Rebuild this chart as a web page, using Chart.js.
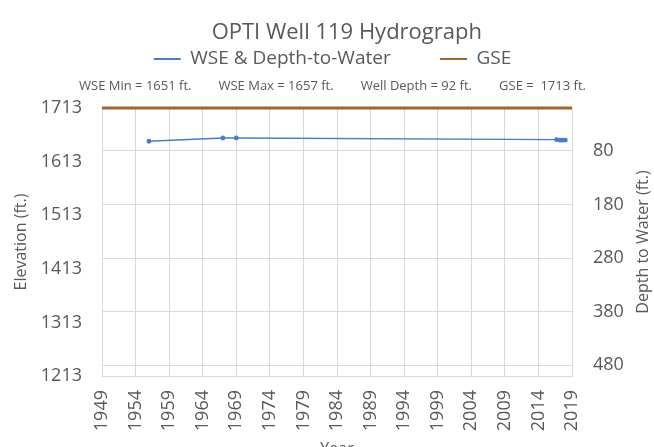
<!DOCTYPE html>
<html>
<head>
<meta charset="utf-8">
<script src="https://cdn.jsdelivr.net/npm/chart.js@4/dist/chart.umd.min.js"></script>
<style>
  html, body { margin: 0; padding: 0; background: #ffffff; }
  #wrap { width: 654px; height: 447px; }
</style>
</head>
<body>
<div id="wrap"><canvas id="hydro" width="654" height="447"></canvas></div>
<script>
// values
const wseYears = [1956, 1967, 1969, 2016.7, 2017.2, 2017.6, 2018];
const wseElev = [1651, 1657, 1657, 1654, 1653, 1653, 1653];
const gseYears = [1949, 2019];
const gseElev = [1713, 1713];
const elevTicks = [1213, 1313, 1413, 1513, 1613, 1713];
const depthTicks = [80, 180, 280, 380, 480];
const yearTicks = [1949, 1954, 1959, 1964, 1969, 1974, 1979, 1984, 1989, 1994, 1999, 2004, 2009, 2014, 2019];
const seriesNames = ["WSE & Depth-to-Water", "GSE"];
const statsLine = "WSE Min = 1651 ft.        WSE Max = 1657 ft.        Well Depth = 92 ft.        GSE =  1713 ft.";
const rightTitle = "Depth to Water (ft.)";

const textColor = "#595959";
const gridColor = "#d9d9d9";
const wseColor = "#4a7cc9";
const gseColor = "#a0672f";
const tickFont = { family: "Open Sans", size: 18 };
const axisTitleFont = { family: "Open Sans", size: 16 };

// Chart.js turns a right-hand axis title the other way, so draw it bottom-to-top here
const rightTitlePlugin = {
    id: "rightTitle",
    afterDraw(chart) {
        const c = chart.ctx;
        const area = chart.chartArea;
        c.save();
        c.translate(chart.width - 11, (area.top + area.bottom) / 2);
        c.rotate(-Math.PI / 2);
        c.fillStyle = textColor;
        c.font = "16px 'Open Sans'";
        c.textAlign = "center";
        c.textBaseline = "middle";
        c.fillText(rightTitle, 0, 0);
        c.restore();
    }
};

const ctx = document.getElementById("hydro").getContext("2d");
new Chart(ctx, {
    type: "line",
    data: {
        datasets: [
            {
                label: seriesNames[0],
                data: wseYears.map((x, i) => ({ x: x, y: wseElev[i] })),
                borderColor: wseColor,
                backgroundColor: wseColor,
                borderWidth: 1.3,
                pointRadius: 1.8,
                pointHoverRadius: 1.8,
                yAxisID: "y",
                tension: 0
            },
            {
                label: seriesNames[1],
                data: gseYears.map((x, i) => ({ x: x, y: gseElev[i] })),
                borderColor: gseColor,
                backgroundColor: gseColor,
                borderWidth: 3,
                pointRadius: 0,
                yAxisID: "y",
                clip: 6
            }
        ]
    },
    options: {
        responsive: false,
        animation: false,
        layout: { padding: { top: 20, left: 12, right: 1, bottom: 0 } },
        plugins: {
            title: {
                display: true,
                text: "     OPTI Well 119 Hydrograph",
                color: textColor,
                font: { family: "Open Sans", size: 22, weight: "normal" },
                padding: { top: 0, bottom: 3 }
            },
            legend: {
                display: true,
                labels: {
                    color: textColor,
                    font: { family: "Open Sans", size: 19 },
                    boxWidth: 27,
                    boxHeight: 2,
                    padding: 0,
                    generateLabels: chart => chart.data.datasets.map((ds, i) => ({
                        text: i === 0 ? ds.label + "          " : ds.label,
                        fillStyle: ds.borderColor,
                        strokeStyle: ds.borderColor,
                        lineWidth: 0,
                        fontColor: textColor,
                        datasetIndex: i
                    }))
                }
            },
            subtitle: {
                display: true,
                text: statsLine,
                color: textColor,
                weight: 500,
                font: { family: "Open Sans", size: 13 },
                padding: { top: 0, bottom: 14 }
            },
            tooltip: { enabled: false }
        },
        scales: {
            x: {
                type: "linear",
                min: 1949,
                max: 2019,
                afterBuildTicks: axis => { axis.ticks = yearTicks.map(v => ({ value: v })); },
                afterFit: axis => { axis.height = 71; },
                ticks: {
                    color: textColor,
                    font: tickFont,
                    maxRotation: 90,
                    minRotation: 90,
                    padding: 14,
                    autoSkip: false,
                    callback: v => String(v)
                },
                grid: { color: gridColor, drawTicks: false },
                border: { color: gridColor },
                title: {
                    display: true,
                    text: "Year",
                    color: textColor,
                    font: axisTitleFont,
                    padding: { top: 0, bottom: -12 }
                }
            },
            y: {
                position: "left",
                min: 1213,
                max: 1713,
                afterBuildTicks: axis => { axis.ticks = elevTicks.map(v => ({ value: v })); },
                afterFit: axis => { axis.width = 90; },
                ticks: {
                    color: textColor,
                    font: tickFont,
                    padding: 20,
                    callback: v => String(v)
                },
                grid: { display: false, drawTicks: false },
                border: { display: false },
                title: {
                    display: true,
                    text: "Elevation (ft.)",
                    color: textColor,
                    font: axisTitleFont,
                    padding: { top: 0, bottom: 0 }
                }
            },
            y2: {
                position: "right",
                reverse: true,
                min: 0,
                max: 500,
                afterBuildTicks: axis => { axis.ticks = depthTicks.map(v => ({ value: v })); },
                afterFit: axis => { axis.width = 81; },
                ticks: {
                    color: textColor,
                    font: tickFont,
                    padding: 21,
                    callback: v => String(v)
                },
                grid: { color: gridColor, drawTicks: false },
                border: { display: false },
                title: {
                    display: true,
                    text: rightTitle,
                    color: "rgba(0,0,0,0)",
                    font: axisTitleFont,
                    padding: { top: 0, bottom: 0 }
                }
            }
        }
    },
    plugins: [rightTitlePlugin]
});
</script>
</body>
</html>
